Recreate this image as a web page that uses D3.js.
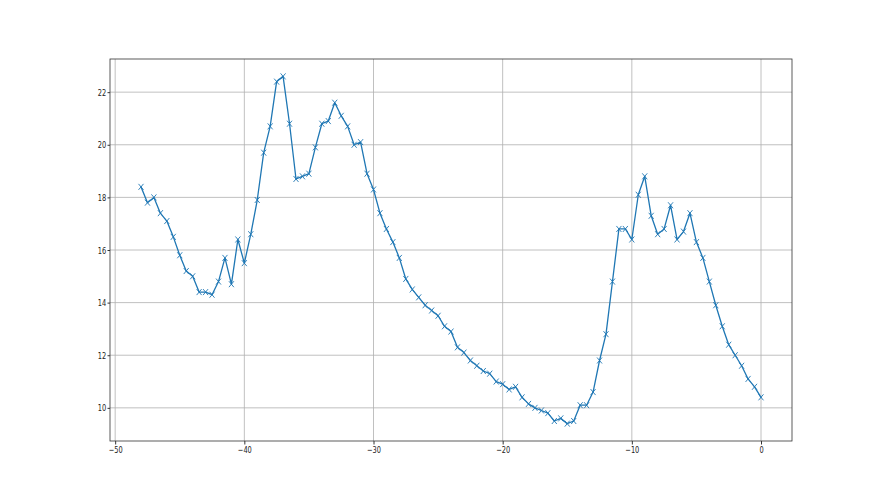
<!DOCTYPE html>
<html>
<head>
<meta charset="utf-8">
<style>
  body { margin: 0; background: #fff; }
  .tick text { font: 9.5px "DejaVu Sans", sans-serif; fill: #222; }
</style>
<script src="https://d3js.org/d3.v7.min.js"></script>
</head>
<body>
<script>
// x positions (one every half step)
var xs = [-48, -47.5, -47, -46.5, -46, -45.5, -45, -44.5, -44, -43.5, -43, -42.5, -42, -41.5, -41, -40.5,
  -40, -39.5, -39, -38.5, -38, -37.5, -37, -36.5, -36, -35.5, -35, -34.5, -34, -33.5, -33, -32.5,
  -32, -31.5, -31, -30.5, -30, -29.5, -29, -28.5, -28, -27.5, -27, -26.5, -26, -25.5, -25, -24.5,
  -24, -23.5, -23, -22.5, -22, -21.5, -21, -20.5, -20, -19.5, -19, -18.5, -18, -17.5, -17, -16.5,
  -16, -15.5, -15, -14.5, -14, -13.5, -13, -12.5, -12, -11.5, -11, -10.5, -10, -9.5, -9, -8.5,
  -8, -7.5, -7, -6.5, -6, -5.5, -5, -4.5, -4, -3.5, -3, -2.5, -2, -1.5, -1, -0.5, 0];

var ys = [18.4, 17.8, 18.0, 17.4, 17.1, 16.5, 15.8, 15.2, 15.0, 14.4, 14.4, 14.3, 14.8, 15.7, 14.7, 16.4,
  15.5, 16.6, 17.9, 19.7, 20.7, 22.4, 22.6, 20.8, 18.7, 18.8, 18.9, 19.9, 20.8, 20.9, 21.6, 21.1,
  20.7, 20.0, 20.1, 18.9, 18.3, 17.4, 16.8, 16.3, 15.7, 14.9, 14.5, 14.2, 13.9, 13.7, 13.5, 13.1,
  12.9, 12.3, 12.1, 11.8, 11.6, 11.4, 11.3, 11.0, 10.9, 10.7, 10.8, 10.4, 10.15, 10.0, 9.9, 9.8,
  9.5, 9.6, 9.4, 9.5, 10.1, 10.1, 10.6, 11.8, 12.8, 14.8, 16.8, 16.8, 16.4, 18.1, 18.8, 17.3,
  16.6, 16.8, 17.7, 16.4, 16.7, 17.4, 16.3, 15.7, 14.8, 13.9, 13.1, 12.4, 12.0, 11.6, 11.1, 10.8, 10.4];

var xTicks = [-50, -40, -30, -20, -10, 0];
var yTicks = [10, 12, 14, 16, 18, 20, 22];

var width = 880, height = 495;
var padL = 110, padR = 792, padT = 59, padB = 441;
var color = "#1f77b4";

var data = xs.map(function (x, i) { return [x, ys[i]]; });

// matplotlib style 5% margins
var xr = d3.extent(xs), yr = d3.extent(ys);
var xPad = (xr[1] - xr[0]) * 0.05, yPad = (yr[1] - yr[0]) * 0.05;

var x = d3.scaleLinear().domain([xr[0] - xPad, xr[1] + xPad]).range([padL, padR]);
var y = d3.scaleLinear().domain([yr[0] - yPad, yr[1] + yPad]).range([padB, padT]);

var svg = d3.select("body").append("svg")
  .attr("width", width)
  .attr("height", height);

// grid
svg.append("g").selectAll("line").data(xTicks).enter().append("line")
  .attr("x1", function (d) { return x(d); }).attr("x2", function (d) { return x(d); })
  .attr("y1", padT).attr("y2", padB)
  .attr("stroke", "#b0b0b0").attr("stroke-width", 0.8);
svg.append("g").selectAll("line").data(yTicks).enter().append("line")
  .attr("y1", function (d) { return y(d); }).attr("y2", function (d) { return y(d); })
  .attr("x1", padL).attr("x2", padR)
  .attr("stroke", "#b0b0b0").attr("stroke-width", 0.8);

// line
var line = d3.line()
  .x(function (d) { return x(d[0]); })
  .y(function (d) { return y(d[1]); });

svg.append("path")
  .datum(data)
  .attr("d", line)
  .attr("fill", "none")
  .attr("stroke", color)
  .attr("stroke-width", 1.3)
  .attr("stroke-linejoin", "round")
  .attr("stroke-linecap", "square");

// x markers
var mx = 2.5, my = 3;
svg.append("g").selectAll("path").data(data).enter().append("path")
  .attr("d", function (d) {
    var cx = x(d[0]), cy = y(d[1]);
    return "M" + (cx - mx) + "," + (cy - my) + "L" + (cx + mx) + "," + (cy + my) +
      "M" + (cx - mx) + "," + (cy + my) + "L" + (cx + mx) + "," + (cy - my);
  })
  .attr("stroke", color)
  .attr("stroke-width", 0.9)
  .attr("fill", "none");

// axes
var fmt = function (d) { return d3.format("d")(d); };
svg.append("g")
  .attr("transform", "translate(0," + padB + ")")
  .call(d3.axisBottom(x).tickValues(xTicks).tickFormat(fmt).tickSizeInner(3.5).tickSizeOuter(0).tickPadding(1.5));
svg.append("g")
  .attr("transform", "translate(" + padL + ",0)")
  .call(d3.axisLeft(y).tickValues(yTicks).tickFormat(fmt).tickSizeInner(2.5).tickSizeOuter(0).tickPadding(3));

svg.selectAll(".domain").remove();
svg.selectAll(".tick line").attr("stroke", "#000").attr("stroke-width", 0.8);
// narrow glyphs, as in the reference
svg.selectAll(".tick text").attr("transform", "scale(0.7,1)");

// spines
svg.append("rect")
  .attr("x", padL).attr("y", padT)
  .attr("width", padR - padL).attr("height", padB - padT)
  .attr("fill", "none")
  .attr("stroke", "#333")
  .attr("stroke-width", 0.8);
</script>
</body>
</html>
